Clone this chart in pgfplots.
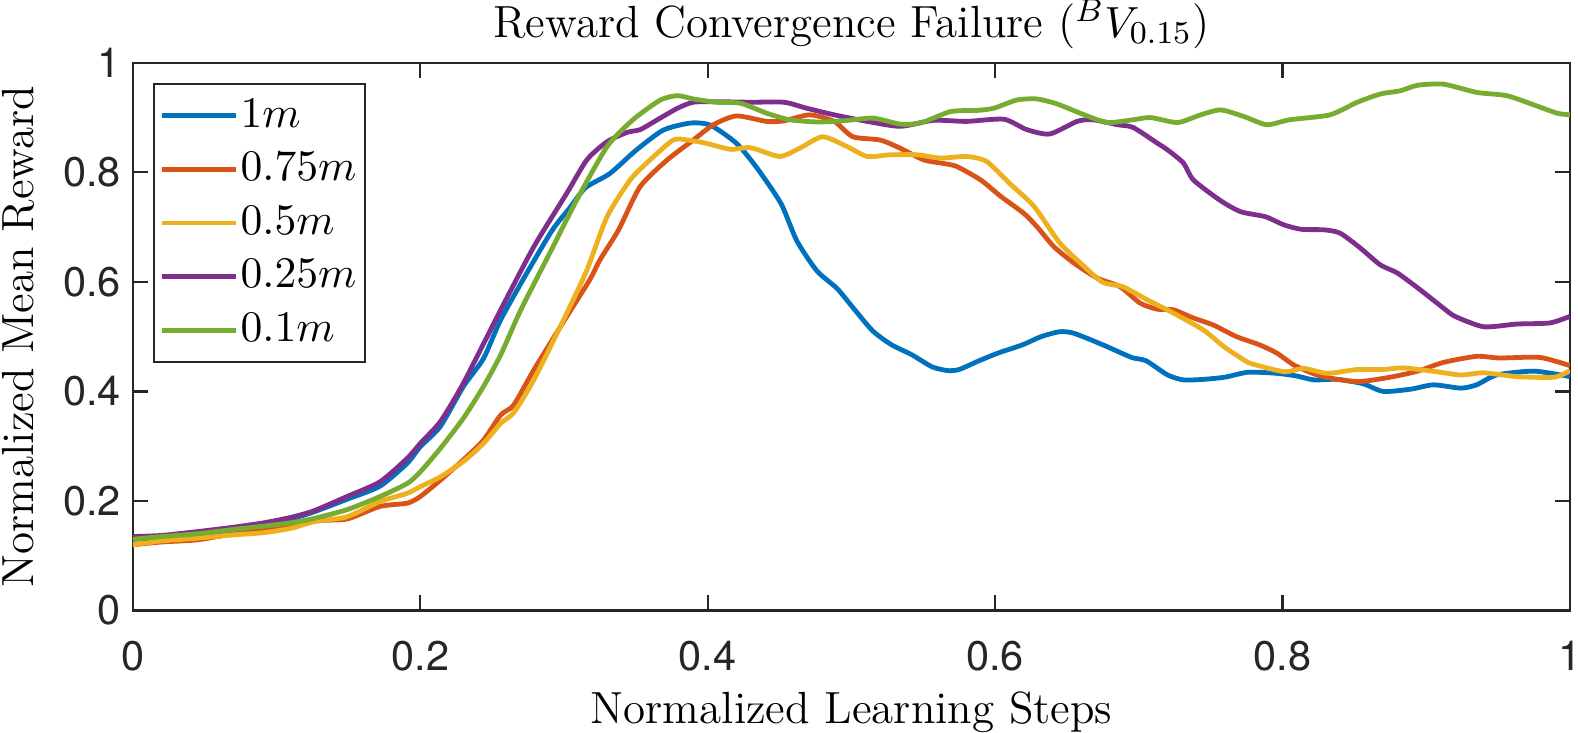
\documentclass[border=0pt]{standalone}
\usepackage{fontspec}
\usepackage{pgfplots}
\pgfplotsset{compat=1.18}
\newfontfamily\heros{TeX Gyre Heros}

% MATLAB default line colours
\definecolor{mblue}{rgb}{0,0.447,0.741}
\definecolor{morange}{rgb}{0.85,0.325,0.098}
\definecolor{myellow}{rgb}{0.929,0.694,0.125}
\definecolor{mpurple}{rgb}{0.494,0.184,0.556}
\definecolor{mgreen}{rgb}{0.466,0.674,0.188}
\definecolor{maxis}{rgb}{0.15,0.15,0.15}

\begin{document}
\begin{tikzpicture}
\begin{axis}[
  scale only axis,
  width=359.25bp, height=136.9bp,
  xmin=0, xmax=1, ymin=0, ymax=1,
  xtick={0,0.2,0.4,0.6,0.8,1},
  xticklabels={0,0.2,0.4,0.6,0.8,1},
  ytick={0,0.2,0.4,0.6,0.8,1},
  yticklabels={0,0.2,0.4,0.6,0.8,1},
  tick label style={font=\heros\fontsize{10.4}{12}\selectfont, text=maxis},
  xticklabel style={anchor=base, yshift=-14.9bp},
  yticklabel style={anchor=east, inner sep=0pt, xshift=-2.8bp},
  tick align=inside,
  major tick length=3.8bp,
  tick style={draw=maxis, line width=0.55bp},
  axis line style={draw=maxis, line width=0.55bp},
  title={Reward Convergence Failure ($^{B}V_{0.15}$)},
  every axis title shift=0pt,
  title style={font=\fontsize{11.3}{13}\selectfont, at={(0.5,1)}, anchor=base, yshift=6.4bp},
  xlabel={Normalized Learning Steps},
  ylabel={Normalized Mean Reward},
  xlabel style={font=\fontsize{11.3}{13}\selectfont, at={(axis description cs:0.5,0)}, anchor=base, yshift=-28.3bp},
  ylabel style={font=\fontsize{11.3}{13}\selectfont, at={(axis description cs:0,0.5)}, anchor=base, yshift=24.9bp},
  legend cell align=left,
  legend style={at={(0.0139,0.9635)}, anchor=north west,
    draw=maxis, line width=0.5bp,
    font=\fontsize{11}{13}\selectfont,
    inner xsep=1.5bp, inner ysep=1.3bp, row sep=0pt,
    nodes={inner xsep=0.5bp, inner ysep=1.4bp, text height=8.1bp, text depth=2.5bp}},
  legend image code/.code={\draw[#1] (0bp,0bp) -- (18.5bp,0bp);},
  every axis plot/.append style={line width=1.2bp, smooth, tension=0.4},
]
\addplot[mblue] coordinates {
(0,0.13) (0.02,0.133) (0.045,0.138) (0.07,0.148) (0.091,0.156) (0.11,0.167)
(0.126,0.18) (0.149,0.203) (0.172,0.227) (0.191,0.269) (0.2,0.299) (0.214,0.336)
(0.23,0.409) (0.244,0.46) (0.256,0.531) (0.275,0.62) (0.292,0.695) (0.304,0.735)
(0.315,0.772) (0.332,0.798) (0.35,0.84) (0.369,0.877) (0.388,0.89) (0.402,0.886)
(0.42,0.853) (0.434,0.809) (0.451,0.743) (0.462,0.675) (0.476,0.62) (0.49,0.588)
(0.502,0.55) (0.515,0.51) (0.528,0.485) (0.542,0.467) (0.556,0.445) (0.567,0.438)
(0.575,0.44) (0.588,0.455) (0.602,0.47) (0.619,0.485) (0.632,0.5) (0.645,0.509)
(0.655,0.506) (0.675,0.485) (0.695,0.462) (0.705,0.456) (0.72,0.43) (0.731,0.421)
(0.745,0.422) (0.76,0.426) (0.776,0.435) (0.796,0.433) (0.81,0.428) (0.822,0.421)
(0.838,0.422) (0.856,0.414) (0.87,0.4) (0.889,0.404) (0.905,0.412) (0.924,0.406)
(0.935,0.412) (0.949,0.43) (0.975,0.437) (1,0.427)
};
\addlegendentry{$1m$}
\addplot[morange] coordinates {
(0,0.12) (0.02,0.125) (0.045,0.129) (0.07,0.14) (0.091,0.147) (0.11,0.155)
(0.126,0.164) (0.149,0.167) (0.172,0.19) (0.191,0.196) (0.2,0.208) (0.214,0.238)
(0.23,0.275) (0.244,0.311) (0.256,0.357) (0.265,0.375) (0.279,0.439) (0.302,0.537)
(0.318,0.604) (0.325,0.64) (0.338,0.695) (0.353,0.774) (0.372,0.823) (0.39,0.859)
(0.404,0.887) (0.42,0.903) (0.441,0.893) (0.453,0.894) (0.471,0.905) (0.488,0.893)
(0.501,0.865) (0.52,0.859) (0.534,0.844) (0.55,0.823) (0.562,0.817) (0.573,0.811)
(0.59,0.786) (0.604,0.756) (0.62,0.725) (0.629,0.701) (0.641,0.664) (0.655,0.634)
(0.671,0.607) (0.687,0.591) (0.701,0.561) (0.713,0.55) (0.724,0.549) (0.738,0.534)
(0.752,0.521) (0.768,0.5) (0.784,0.485) (0.796,0.47) (0.808,0.448) (0.824,0.43)
(0.838,0.422) (0.854,0.418) (0.875,0.426) (0.894,0.437) (0.912,0.453) (0.935,0.464)
(0.951,0.461) (0.979,0.462) (1,0.447)
};
\addlegendentry{$0.75m$}
\addplot[myellow] coordinates {
(0,0.12) (0.02,0.127) (0.045,0.132) (0.07,0.138) (0.091,0.142) (0.11,0.15)
(0.126,0.162) (0.149,0.171) (0.172,0.199) (0.191,0.214) (0.2,0.226) (0.214,0.244)
(0.23,0.272) (0.244,0.305) (0.256,0.342) (0.265,0.361) (0.279,0.421) (0.302,0.543)
(0.316,0.622) (0.33,0.719) (0.346,0.786) (0.36,0.823) (0.376,0.859) (0.386,0.859)
(0.399,0.853) (0.416,0.842) (0.43,0.845) (0.45,0.829) (0.464,0.844) (0.48,0.865)
(0.497,0.847) (0.511,0.829) (0.527,0.832) (0.546,0.832) (0.562,0.826) (0.58,0.829)
(0.594,0.82) (0.61,0.78) (0.627,0.738) (0.645,0.671) (0.662,0.628) (0.675,0.599)
(0.689,0.591) (0.706,0.567) (0.724,0.543) (0.745,0.512) (0.759,0.482) (0.771,0.461)
(0.778,0.451) (0.801,0.436) (0.815,0.442) (0.831,0.433) (0.852,0.44) (0.87,0.44)
(0.884,0.443) (0.907,0.436) (0.924,0.43) (0.94,0.434) (0.963,0.427) (0.989,0.426)
(1,0.438)
};
\addlegendentry{$0.5m$}
\addplot[mpurple] coordinates {
(0,0.135) (0.02,0.137) (0.045,0.144) (0.07,0.152) (0.091,0.16) (0.11,0.17)
(0.126,0.182) (0.149,0.208) (0.172,0.235) (0.191,0.278) (0.2,0.305) (0.214,0.345)
(0.23,0.415) (0.256,0.549) (0.279,0.664) (0.302,0.762) (0.316,0.823) (0.33,0.856)
(0.344,0.873) (0.353,0.878) (0.365,0.896) (0.379,0.917) (0.39,0.928) (0.406,0.929)
(0.43,0.928) (0.453,0.928) (0.469,0.917) (0.488,0.905) (0.511,0.893) (0.534,0.884)
(0.557,0.895) (0.58,0.893) (0.606,0.897) (0.622,0.878) (0.638,0.87) (0.657,0.893)
(0.668,0.896) (0.685,0.887) (0.696,0.882) (0.713,0.853) (0.72,0.841) (0.731,0.817)
(0.738,0.786) (0.757,0.748) (0.771,0.728) (0.788,0.719) (0.801,0.704) (0.813,0.696)
(0.829,0.695) (0.84,0.689) (0.854,0.662) (0.868,0.631) (0.88,0.616) (0.896,0.585)
(0.912,0.552) (0.92,0.537) (0.94,0.518) (0.963,0.523) (0.986,0.525) (1,0.537)
};
\addlegendentry{$0.25m$}
\addplot[mgreen] coordinates {
(0,0.13) (0.02,0.135) (0.045,0.14) (0.07,0.148) (0.091,0.154) (0.11,0.16)
(0.126,0.168) (0.149,0.184) (0.172,0.208) (0.191,0.232) (0.2,0.253) (0.214,0.296)
(0.23,0.351) (0.244,0.409) (0.256,0.467) (0.27,0.549) (0.29,0.652) (0.309,0.75)
(0.33,0.847) (0.348,0.896) (0.367,0.932) (0.379,0.94) (0.39,0.934) (0.406,0.928)
(0.423,0.926) (0.441,0.908) (0.457,0.896) (0.476,0.892) (0.494,0.894) (0.515,0.899)
(0.534,0.888) (0.548,0.89) (0.569,0.911) (0.587,0.913) (0.599,0.917) (0.615,0.932)
(0.629,0.934) (0.643,0.925) (0.662,0.905) (0.678,0.891) (0.696,0.896) (0.708,0.9)
(0.727,0.891) (0.743,0.905) (0.757,0.914) (0.773,0.902) (0.789,0.887) (0.805,0.896)
(0.833,0.905) (0.852,0.928) (0.868,0.943) (0.882,0.949) (0.894,0.959) (0.912,0.961)
(0.935,0.946) (0.956,0.94) (0.975,0.923) (0.991,0.908) (1,0.905)
};
\addlegendentry{$0.1m$}
\end{axis}
\pgfresetboundingbox
\path ([xshift=-33.2bp,yshift=-30.6bp]current axis.south west) rectangle ([xshift=2bp,yshift=15.7bp]current axis.north east);
\end{tikzpicture}
\end{document}
